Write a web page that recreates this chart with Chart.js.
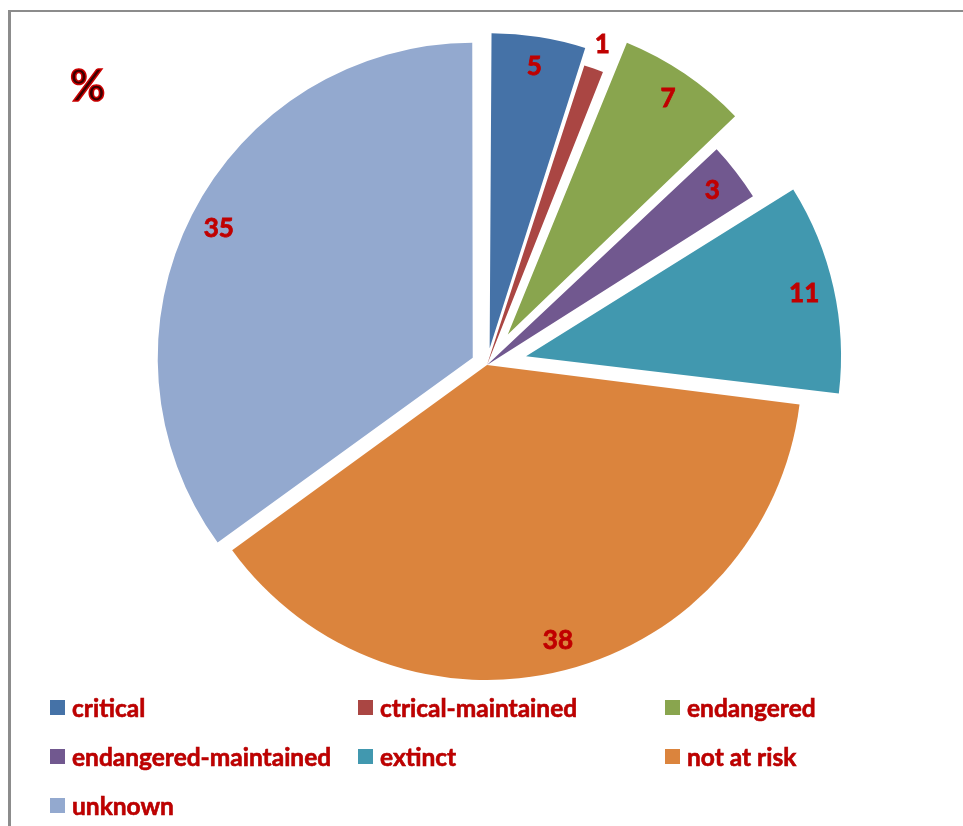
<!DOCTYPE html>
<html>
<head>
<meta charset="utf-8">
<script src="https://cdn.jsdelivr.net/npm/chart.js@4.4.1/dist/chart.umd.min.js"></script>
<style>
    html, body {
        margin: 0;
        padding: 0;
        background: #ffffff;
    }
    #wrap {
        position: relative;
        width: 963px;
        height: 826px;
        overflow: hidden;
    }
    #frame {
        position: absolute;
        left: 8px;
        top: 10px;
        width: 980px;
        height: 840px;
        border-top: 2px solid #8c8c8c;
        border-left: 3px solid #8c8c8c;
    }
    #pie {
        position: absolute;
        left: 0;
        top: 0;
    }
    #unit-title {
        position: absolute;
        left: 70px;
        top: 59px;
        font: bold 43px Lato, sans-serif;
        color: #3a0000;
        -webkit-text-stroke: 1.5px #cc0000;
    }
    #legend {
        position: absolute;
        left: 50px;
        top: 683px;
        display: grid;
        grid-template-columns: 308px 307px 250px;
        grid-auto-rows: 49px;
        font: bold 24.5px Lato, sans-serif;
        color: #c00000;
        -webkit-text-stroke: 0.6px #b00000;
    }
    .legend-item {
        display: flex;
        align-items: center;
        white-space: nowrap;
    }
    .legend-box {
        width: 15px;
        height: 15px;
        margin-right: 7px;
        flex: none;
    }
</style>
</head>
<body>
<div id="wrap">
    <div id="frame"></div>
    <canvas id="pie" width="963" height="826"></canvas>
    <div id="unit-title">%</div>
    <div id="legend"></div>
</div>
<script>
const categories = [
    'critical',
    'ctrical-maintained',
    'endangered',
    'endangered-maintained',
    'extinct',
    'not at risk',
    'unknown'
];
const shares = [5, 1, 7, 3, 11, 38, 35];
const sliceColors = ['#4572a7', '#aa4643', '#89a54e', '#71588f', '#4198af', '#db843d', '#93a9cf'];

// how far each slice is pulled out of the pie, in px
const explode = [17, 0, 37, 0, 40, 0, 16];

const PIE_RADIUS = 315;
const LABEL_RADIUS = 285;
const OUTSIDE_LABEL_RADIUS = 340;
const LABEL_COLOR = '#c00000';

// Chart.js also grows an offset arc's radius; undo that so every slice keeps the same size
const keepRadius = {
    id: 'keepRadius',
    afterDatasetsUpdate(chart) {
        chart.getDatasetMeta(0).data.forEach((arc, i) => {
            const fix = 1 - Math.sin(Math.min(Math.PI, arc.circumference));
            arc.outerRadius = PIE_RADIUS - explode[i] * fix;
        });
    }
};

const sliceLabels = {
    id: 'sliceLabels',
    afterDatasetsDraw(chart) {
        const ctx = chart.ctx;
        ctx.save();
        ctx.font = 'bold 26px Lato, sans-serif';
        ctx.fillStyle = LABEL_COLOR;
        ctx.strokeStyle = LABEL_COLOR;
        ctx.lineWidth = 0.8;
        ctx.textAlign = 'center';
        ctx.textBaseline = 'middle';
        chart.getDatasetMeta(0).data.forEach((arc, i) => {
            const mid = (arc.startAngle + arc.endAngle) / 2;
            const r = explode[i] + (shares[i] < 2 ? OUTSIDE_LABEL_RADIUS : LABEL_RADIUS);
            const x = arc.x + Math.cos(mid) * r;
            const y = arc.y + Math.sin(mid) * r;
            ctx.fillText(String(shares[i]), x, y);
            ctx.strokeText(String(shares[i]), x, y);
        });
        ctx.restore();
    }
};

function buildLegend() {
    const legend = document.getElementById('legend');
    categories.forEach((name, i) => {
        const item = document.createElement('div');
        item.className = 'legend-item';
        const box = document.createElement('span');
        box.className = 'legend-box';
        box.style.background = sliceColors[i];
        const text = document.createElement('span');
        text.textContent = name;
        item.appendChild(box);
        item.appendChild(text);
        legend.appendChild(item);
    });
}

new Chart(document.getElementById('pie'), {
    type: 'pie',
    data: {
        labels: categories,
        datasets: [{
            data: shares,
            backgroundColor: sliceColors,
            borderWidth: 0,
            offset: explode.map((d) => d * 4)
        }]
    },
    options: {
        responsive: false,
        animation: false,
        radius: PIE_RADIUS,
        layout: {
            padding: { left: 11, right: 0, top: 0, bottom: 96 }
        },
        plugins: {
            legend: { display: false },
            tooltip: { enabled: false }
        }
    },
    plugins: [keepRadius, sliceLabels]
});

buildLegend();
</script>
</body>
</html>
